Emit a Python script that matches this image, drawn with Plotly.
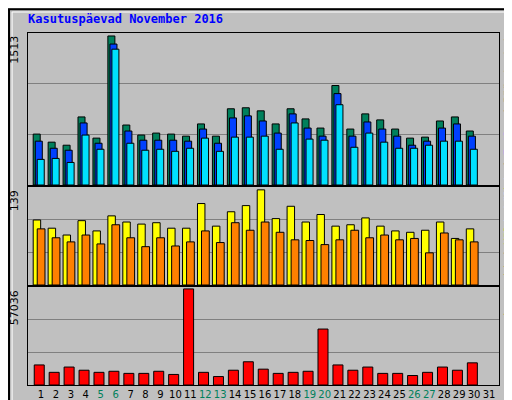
import plotly.graph_objects as go
from plotly.subplots import make_subplots

days = list(range(1, 32))
weekend = [5, 6, 12, 13, 19, 20, 26, 27]

hits = [517, 435, 404, 691, 476, 1513, 609, 507, 527, 517, 496, 620, 496, 774, 784,
        753, 620, 774, 671, 578, 1010, 568, 722, 661, 568, 476, 486, 650, 691, 548, 0]
files = [445, 373, 353, 630, 424, 1431, 548, 455, 455, 455, 445, 568, 424, 681, 702,
         650, 527, 722, 578, 496, 928, 496, 640, 568, 496, 404, 445, 578, 620, 496, 0]
pages = [260, 270, 229, 507, 363, 1379, 424, 353, 363, 342, 373, 476, 342, 486, 486,
         496, 363, 630, 466, 455, 815, 383, 527, 435, 373, 373, 404, 445, 445, 363, 0]
visits = [95, 83, 73, 94, 79, 101, 92, 89, 91, 83, 83, 119, 86, 107, 116,
          139, 97, 115, 92, 103, 86, 88, 98, 86, 79, 77, 80, 92, 68, 82, 0]
sites = [82, 69, 63, 73, 60, 88, 69, 56, 69, 57, 63, 79, 62, 91, 80,
         92, 77, 66, 65, 59, 66, 80, 69, 73, 66, 68, 47, 76, 66, 63, 0]
kbytes = [11908, 7520, 10654, 8774, 7520, 8147, 6894, 6894, 8147, 6267, 57036, 7520, 5014, 8774, 13788,
          9401, 6894, 7520, 8147, 33216, 11908, 8774, 10654, 6894, 6894, 5640, 7520, 10654, 8774, 13161, 0]

GREEN, BLUE, CYAN = "#00805C", "#0040FF", "#00E0FF"
YELLOW, ORANGE, RED = "#FFFF00", "#FF8000", "#FF0000"
MONO = "DejaVu Sans Mono"

fig = make_subplots(rows=3, cols=1, shared_xaxes=True)
line = dict(color="black", width=1)

def bars(vals, color, off, w, row):
    # days without data get no bar at all
    vals = [v if v else None for v in vals]
    fig.add_trace(go.Bar(x=days, y=vals, marker=dict(color=color, line=line),
                         offset=off, width=w, showlegend=False), row=row, col=1)

bars(hits, GREEN, -0.52, 0.47, 1)
bars(files, BLUE, -0.38, 0.47, 1)
bars(pages, CYAN, -0.25, 0.47, 1)
bars(visits, YELLOW, -0.52, 0.5, 2)
bars(sites, ORANGE, -0.25, 0.52, 2)
bars(kbytes, RED, -0.45, 0.67, 3)

ticktext = [f'<span style="color:{GREEN}">{d}</span>' if d in weekend else str(d) for d in days]

domains = [[0.5575, 0.9375], [0.3075, 0.5525], [0.0575, 0.3025]]
maxes = [max(hits) * 1.02, max(visits) * 1.03, max(kbytes) * 1.02]
for i in range(3):
    r = maxes[i]
    fig.update_yaxes(row=i + 1, col=1, domain=domains[i], range=[0, r],
                     tickvals=[r / 3, 2 * r / 3], showticklabels=False,
                     gridcolor="#808080", gridwidth=1, zeroline=False,
                     showline=True, linecolor="black", mirror=True)
    fig.update_xaxes(row=i + 1, col=1, range=[0.13, 31.67], domain=[0.039, 0.959],
                     showgrid=False, showline=True, linecolor="black", mirror=True,
                     tickvals=days, ticktext=ticktext, showticklabels=(i == 2),
                     ticks="", tickangle=0,
                     tickfont=dict(family="DejaVu Sans", size=10, color="black"))

fig.update_layout(
    width=512, height=400, margin=dict(l=0, r=0, t=0, b=0),
    paper_bgcolor="#C0C0C0", plot_bgcolor="#C0C0C0", barmode="overlay",
)

fig.add_annotation(x=0.035, y=0.995, xref="paper", yref="paper", xanchor="left", yanchor="top",
                   text="<b>Kasutuspäevad November 2016</b>", showarrow=False,
                   font=dict(family=MONO, size=12, color="#0000FF"))

# max labels on the left
for lab, top in [("1513", 0.935), ("139", 0.55), ("57036", 0.30)]:
    fig.add_annotation(x=0.03, y=top, xref="paper", yref="paper", xanchor="right", yanchor="top",
                       text=lab, textangle=-90, showarrow=False,
                       font=dict(family="DejaVu Sans", size=11, color="black"))

# legends on the right
legends = [
    (f'<span style="color:{CYAN}">Lehekülgi</span> / <span style="color:{BLUE}">Faile</span>'
     f' / <span style="color:{GREEN}">Pöördumisi</span>', 0.935),
    (f'<span style="color:{ORANGE}">Arvuteid</span> / <span style="color:{YELLOW}">Külastusi</span>', 0.56),
    (f'<span style="color:{RED}">KBaite</span>', 0.135),
]
for txt, top in legends:
    fig.add_annotation(x=0.978, y=top, xref="paper", yref="paper", xanchor="center", yanchor="top",
                       text=txt, textangle=-90, showarrow=False,
                       font=dict(family=MONO, size=11, color="black"))

# beveled outer frame
fig.add_shape(type="rect", xref="paper", yref="paper", x0=0.002, y0=0.003, x1=0.998, y1=0.997,
              line=dict(color="black", width=2))
fig.add_shape(type="rect", xref="paper", yref="paper", x0=0.008, y0=0.01, x1=0.99, y1=0.99,
              line=dict(color="white", width=1))

fig.write_html("out.html")
